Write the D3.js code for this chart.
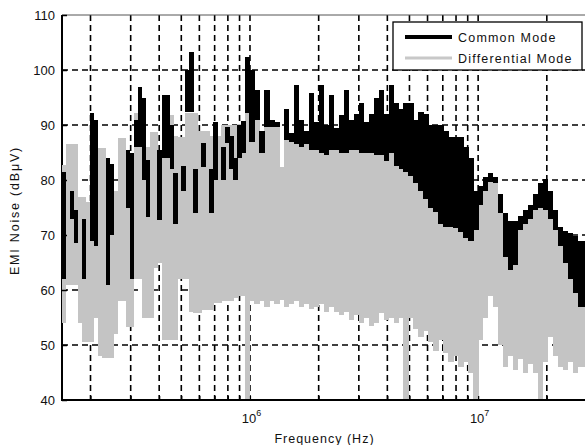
<!DOCTYPE html>
<html>
<head>
<meta charset="utf-8">
<script src="https://cdn.jsdelivr.net/npm/d3@7"></script>
<style>
  body { margin: 0; background: #fff; }
  svg { display: block; }
  text { font-family: "Liberation Sans", Arial, Helvetica, sans-serif; fill: #111; }
</style>
</head>
<body>
<svg id="chart" width="585" height="445"></svg>
<script>
// Spectrum sampled into frequency bins (edges in MHz); each bin holds the
// min/max level (dBµV) reached by the measured trace inside that bin.
const freqEdgesMHz = [
  0.150, 0.156, 0.163, 0.169, 0.176, 0.183, 0.191, 0.199, 0.207, 0.215,
  0.224, 0.233, 0.243, 0.253, 0.263, 0.274, 0.285, 0.297, 0.309, 0.322,
  0.335, 0.349, 0.363, 0.378, 0.393, 0.410, 0.426, 0.444, 0.462, 0.481,
  0.501, 0.521, 0.543, 0.565, 0.588, 0.612, 0.637, 0.664, 0.691, 0.719,
  0.749, 0.779, 0.811, 0.845, 0.879, 0.915, 0.953, 0.992,
  1.044, 1.098, 1.154, 1.214, 1.276, 1.342, 1.411, 1.484, 1.560, 1.640,
  1.725, 1.814, 1.907, 2.005, 2.108, 2.217, 2.331, 2.451, 2.577, 2.710,
  2.850, 2.996, 3.151, 3.313, 3.483, 3.663, 3.851, 4.050, 4.258, 4.477,
  4.708, 4.950, 5.205, 5.473, 5.755, 6.051, 6.363, 6.690, 7.035, 7.397,
  7.778, 8.178, 8.599, 9.042, 9.508, 9.997, 10.51, 11.05, 11.62, 12.22,
  12.85, 13.51, 14.21, 14.94, 15.71, 16.52, 17.37, 18.26, 19.20, 20.19,
  21.23, 22.33, 23.47, 24.68, 25.95, 27.29, 30.0
];

// Common mode noise: upper and lower level per bin (null = no trace in bin)
const cmHigh = [
  81.5, null, 78, 74.5, null, 73, null, 92.2, 91, null,
  null, 84, 83, null, null, null, 85.5, 85, 91, 97,
  95, 83.6, null, null, 85.5, 95.5, 95.5, 90, 81.3, null,
  82.5, 100, 103.3, 82, null, 86.7, null, 82, 90.5, null,
  86, 89.6, 88, 84, 90, 90.7, 102.4,
  100, 96.4, 89, 96.4, 91, 90.5, null, 93, 88.5, 97.3,
  91, 89, 95.8, 90.5, 97.3, 90, 95.5, 89.5, 91.8, 96.4,
  91, 92, 94, 90.5, 92, 95, 96.4, 92, 97.3, 94,
  93, 94, 94, 91, 92.4, 92, 90, 90, 90, 89,
  87.8, 87.8, 87.8, 86, 84, 78, 79, 80.5, 81.3, 80.5,
  77.5, 74, 72.5, 72.5, 73.5, 74.5, 75.5, 77.5, 79.5, 80.2,
  78, 74.5, 71.5, 70.8, 70.3, 69.8, 69
];
const cmLow = [
  62, null, 73, 68.5, null, 62, null, 69, 68, null,
  null, 61, 70, null, null, null, 75, 62, 86, 86,
  80, 73.3, null, null, 72.7, 84, 84, 82, 72, null,
  78, 92.4, 92.4, 74, null, 82.4, null, 74, 80, null,
  80, 86.7, 82, 80, 84, 85, 92.2,
  87, 91, 85, 89.6, 89.6, 89.6, null, 87.3, 87, 86.5,
  86, 86.5, 85.5, 85.5, 85, 84.5, 85.5, 85.5, 85, 85,
  85.5, 85.5, 85, 85, 85, 84.5, 84.5, 83.5, 85, 82.5,
  82, 81.5, 80.8, 79.5, 78, 76.5, 75, 74.2, 72, 71.5,
  71.5, 71.2, 70.5, 69.5, 69, 71, 75.5, 78, 79.6, 79.5,
  74, 66, 63.6, 64.5, 71, 72, 73, 74.5, 75, 74.5,
  73, 71, 68, 65, 62, 59.5, 57
];

// Differential mode noise: upper and lower level per bin
const dmHigh = [
  82.7, 86.5, 86.5, 86.5, 77, 77, 76, 75, 80, 85.8,
  85.8, 80, 79, 78, 87.6, 87.6, 80, 78, 92.2, 92.2,
  92, 86, 88.7, 88.7, 85, 86, 91.8, 91.8, 88, 87.8,
  87.8, 92.2, 92.2, 92.2, 89, 89, 89, 88, 88, 88,
  90, 90, 90, 90, 90.2, 90.2, 92.2,
  87, 91, 85, 89.6, 89.6, 89.6, 82.4, 87.3, 87, 86.5,
  86, 86.5, 85.5, 85.5, 85, 84.5, 85.5, 85.5, 85, 85,
  85.5, 85.5, 85, 85, 85, 84.5, 84.5, 83.5, 85, 82.5,
  82, 81.5, 80.8, 79.5, 78, 76.5, 75, 74.2, 72, 71.5,
  71.5, 71.2, 70.5, 69.5, 69, 71, 75.5, 78, 79.6, 79.5,
  74, 66, 63.6, 64.5, 71, 72, 73, 74.5, 75, 74.5,
  73, 71, 68, 65, 62, 59.5, 57
];
const dmLow = [
  54, 61, 61, 61, 54, 50.5, 50.5, 50.5, 55, 48,
  47.6, 47.6, 47.6, 52, 58, 58, 53.3, 53.3, 62, 62,
  55, 55, 55, 64, 65, 51, 51, 51, 51, 62,
  62, 62, 56, 55.8, 55.8, 56.4, 56.4, 56.4, 57.6, 57.6,
  58, 58, 58, 58.5, 59, 59, 40,
  58, 57.5, 58, 57, 58, 57.5, 58.2, 57, 57.5, 58,
  57, 57.5, 56.5, 57, 57.5, 56, 57, 56, 55.5, 56,
  54.5, 55.5, 54, 55, 53.5, 54, 55.8, 54.5, 55, 54,
  55, 40, 55, 53, 51.5, 52.5, 50.5, 49, 51, 48.5,
  47, 48, 46, 47, 45, 40, 51, 55, 59, 57,
  50, 46, 48, 45.5, 47.5, 45, 46.5, 45, 40, 47,
  51.5, 48, 46, 45.5, 47, 45, 46
];

const yTickValues = [40, 50, 60, 70, 80, 90, 100, 110];
const xDecadeTicksHz = [1e6, 1e7];
const seriesNames = ["Common Mode", "Differential Mode"];

const svg = d3.select("#chart");
const plot = { left: 62, right: 587, top: 15, bottom: 400 };

const x = d3.scaleLog().domain([1.5e5, 3e7]).range([plot.left, plot.right]);
const y = d3.scaleLinear().domain([40, 110]).range([plot.bottom, plot.top]);

svg.append("rect").attr("width", 585).attr("height", 445).attr("fill", "#fff");

svg.append("defs").append("clipPath").attr("id", "plotClip")
  .append("rect")
  .attr("x", plot.left).attr("y", plot.top)
  .attr("width", plot.right - plot.left).attr("height", plot.bottom - plot.top);

// dashed grid
const grid = svg.append("g").attr("stroke", "#000").attr("stroke-width", 1.6)
  .attr("stroke-dasharray", "6,4").attr("fill", "none");
yTickValues.filter(v => v > 40 && v < 110).forEach(v => {
  grid.append("line").attr("x1", plot.left).attr("x2", plot.right)
    .attr("y1", y(v)).attr("y2", y(v));
});
x.ticks().filter(f => f > 1.5e5 && f <= 3e7).forEach(f => {
  grid.append("line").attr("x1", x(f)).attr("x2", x(f))
    .attr("y1", plot.top).attr("y2", plot.bottom);
});

// axis frame
svg.append("line").attr("x1", plot.left).attr("x2", plot.right)
  .attr("y1", plot.top).attr("y2", plot.top).attr("stroke", "#555").attr("stroke-width", 1);
svg.append("line").attr("x1", plot.left).attr("x2", plot.left)
  .attr("y1", plot.top).attr("y2", plot.bottom).attr("stroke", "#000").attr("stroke-width", 2);

// spectrum bins
function bins(hi, lo) {
  return hi.map((h, i) => ({ f0: freqEdgesMHz[i] * 1e6, f1: freqEdgesMHz[i + 1] * 1e6, hi: h, lo: lo[i] }))
    .filter(d => d.hi !== null && d.lo !== null);
}
const dataLayer = svg.append("g").attr("clip-path", "url(#plotClip)");
function drawSeries(rows, color) {
  dataLayer.append("g").selectAll("rect").data(rows).join("rect")
    .attr("x", d => x(d.f0))
    .attr("width", d => x(d.f1) - x(d.f0) + 0.4)
    .attr("y", d => y(d.hi))
    .attr("height", d => y(d.lo) - y(d.hi))
    .attr("fill", color)
    .attr("shape-rendering", "crispEdges");
}
drawSeries(bins(dmHigh, dmLow), "#c4c4c4");
drawSeries(bins(cmHigh, cmLow), "#000");

svg.append("line").attr("x1", plot.left - 1).attr("x2", plot.right)
  .attr("y1", plot.bottom).attr("y2", plot.bottom).attr("stroke", "#000").attr("stroke-width", 2);

// y axis ticks and labels
const yAxis = d3.axisLeft(y).tickValues(yTickValues).tickSize(-5).tickPadding(7);
const yg = svg.append("g").attr("transform", `translate(${plot.left},0)`).call(yAxis);
yg.select(".domain").remove();
yg.selectAll(".tick line").attr("stroke", "#000").attr("stroke-width", 1.5);
yg.selectAll(".tick text").attr("font-size", 13).attr("fill", "#111")
  .attr("font-family", "'Liberation Sans', Arial, sans-serif");

// x axis ticks
const xAxis = d3.axisBottom(x).tickValues(x.ticks().filter(f => f > 1.5e5 && f < 3e7))
  .tickSize(-4).tickFormat(() => "");
const xg = svg.append("g").attr("transform", `translate(0,${plot.bottom})`).call(xAxis);
xg.select(".domain").remove();
xg.selectAll(".tick line").attr("stroke", "#000").attr("stroke-width", 1.2);

xDecadeTicksHz.forEach(f => {
  const t = svg.append("text").attr("x", x(f) + 1.5).attr("y", 423)
    .attr("text-anchor", "middle").attr("font-size", 13);
  t.append("tspan").text("10");
  t.append("tspan").attr("dy", -7).attr("font-size", 9).text(String(Math.round(Math.log10(f))));
});

// axis titles
svg.append("text").attr("x", (plot.left + plot.right) / 2).attr("y", 443)
  .attr("text-anchor", "middle").attr("font-size", 12.5).attr("letter-spacing", 1)
  .text("Frequency (Hz)");
svg.append("text").attr("transform", `translate(19,${(plot.top + plot.bottom) / 2 + 3}) rotate(-90)`)
  .attr("text-anchor", "middle").attr("font-size", 12.5).attr("letter-spacing", 1.8)
  .text("EMI Noise (dBμV)");

// legend
const legend = svg.append("g");
legend.append("rect").attr("x", 393).attr("y", 22).attr("width", 189).attr("height", 48)
  .attr("fill", "#fff").attr("stroke", "#000").attr("stroke-width", 1.3);
const legendStyles = [{ color: "#000", width: 4, y: 37 }, { color: "#c8c8c8", width: 3, y: 58 }];
seriesNames.forEach((name, i) => {
  const s = legendStyles[i];
  legend.append("line").attr("x1", 405).attr("x2", 452).attr("y1", s.y).attr("y2", s.y)
    .attr("stroke", s.color).attr("stroke-width", s.width);
  legend.append("text").attr("x", 458).attr("y", s.y + 4.5).attr("font-size", 12.5)
    .attr("letter-spacing", 1.2).text(name);
});
</script>
</body>
</html>
